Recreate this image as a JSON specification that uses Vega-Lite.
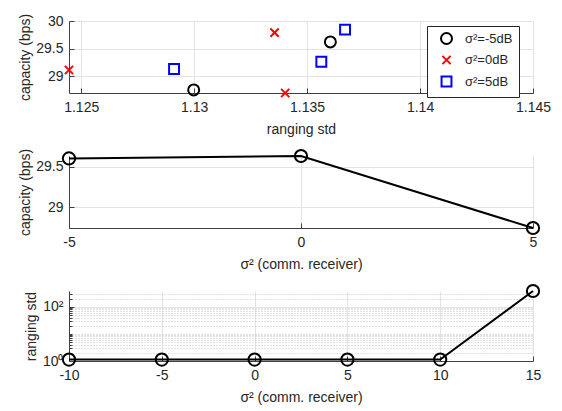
{
  "$schema": "https://vega.github.io/schema/vega-lite/v6.json",
  "padding": {"left": 18, "top": 13, "right": 5, "bottom": 2},
  "background": "white",
  "spacing": 9,
  "config": {
    "view": {"stroke": null},
    "font": "Liberation Sans",
    "axis": {
      "labelFont": "Liberation Sans", "labelFontSize": 14, "labelColor": "#262626",
      "titleFont": "Liberation Sans", "titleFontSize": 14, "titleFontWeight": "normal", "titleColor": "#262626",
      "domainColor": "#404040", "tickColor": "#404040", "gridColor": "#e3e3e3",
      "tickSize": -5, "labelPadding": 12, "labelFlush": false, "labelOverlap": false,
      "labelExpr": "replace(datum.label, '\u2212', '-')"
    },
    "axisY": {"titlePadding": 3, "labelPadding": 11},
    "axisX": {"titlePadding": 8}
  },
  "vconcat": [
    {
      "width": 464, "height": 72,
      "data": {"values": [
        {"x": 1.12998, "y": 28.756, "s": "σ²=-5dB"},
        {"x": 1.13603, "y": 29.623, "s": "σ²=-5dB"},
        {"x": 1.12446, "y": 29.115, "s": "σ²=0dB"},
        {"x": 1.13356, "y": 29.79, "s": "σ²=0dB"},
        {"x": 1.13403, "y": 28.70, "s": "σ²=0dB"},
        {"x": 1.12911, "y": 29.133, "s": "σ²=5dB"},
        {"x": 1.13563, "y": 29.264, "s": "σ²=5dB"},
        {"x": 1.13668, "y": 29.844, "s": "σ²=5dB"}
      ]},
      "mark": {"type": "point", "filled": false, "strokeWidth": 2, "size": 121, "opacity": 1},
      "encoding": {
        "x": {"field": "x", "type": "quantitative",
          "scale": {"domain": [1.12446, 1.145], "nice": false, "zero": false},
          "axis": {"values": [1.125, 1.13, 1.135, 1.14, 1.145], "format": "~g", "title": "ranging std"}},
        "y": {"field": "y", "type": "quantitative",
          "scale": {"domain": [28.7, 30], "nice": false, "zero": false},
          "axis": {"values": [29, 29.5, 30], "format": "~g", "title": "capacity (bps)"}},
        "shape": {"field": "s", "type": "nominal",
          "scale": {"domain": ["σ²=-5dB", "σ²=0dB", "σ²=5dB"],
                    "range": ["circle", "M-0.75,-0.75L0.75,0.75M0.75,-0.75L-0.75,0.75", "M-0.9,-0.9H0.9V0.9H-0.9Z"]},
          "legend": {"title": null, "orient": "none", "legendX": 358, "legendY": 5,
            "strokeColor": "#262626", "fillColor": "white", "padding": 6,
            "symbolOffset": 7, "labelOffset": 12, "rowPadding": 3.5,
            "labelFont": "Liberation Sans", "labelFontSize": 13, "labelColor": "#262626",
            "symbolSize": 121, "symbolStrokeWidth": 2}},
        "color": {"field": "s", "type": "nominal",
          "scale": {"domain": ["σ²=-5dB", "σ²=0dB", "σ²=5dB"], "range": ["#000000", "#ff0000", "#0000ff"]}}
      }
    },
    {
      "width": 464, "height": 72,
      "data": {"values": [
        {"sigma": -5, "cap": 29.60},
        {"sigma": 0, "cap": 29.63},
        {"sigma": 5, "cap": 28.745}
      ]},
      "encoding": {
        "x": {"field": "sigma", "type": "quantitative",
          "scale": {"domain": [-5, 5], "nice": false, "zero": false},
          "axis": {"values": [-5, 0, 5], "title": "σ² (comm. receiver)"}},
        "y": {"field": "cap", "type": "quantitative",
          "scale": {"domain": [28.745, 29.63], "nice": false, "zero": false},
          "axis": {"values": [29, 29.5], "format": "~g", "title": "capacity (bps)"}}
      },
      "layer": [
        {"mark": {"type": "line", "color": "black", "strokeWidth": 2}},
        {"mark": {"type": "point", "shape": "circle", "filled": false, "color": "black", "strokeWidth": 2, "size": 150, "opacity": 1}}
      ]
    },
    {
      "width": 464, "height": 70,
      "data": {"values": [
        {"sigma": -10, "r": 1.13},
        {"sigma": -5, "r": 1.13},
        {"sigma": 0, "r": 1.13},
        {"sigma": 5, "r": 1.13},
        {"sigma": 10, "r": 1.13},
        {"sigma": 15, "r": 380}
      ]},
      "encoding": {
        "x": {"field": "sigma", "type": "quantitative",
          "scale": {"domain": [-10, 15], "nice": false, "zero": false},
          "axis": {"values": [-10, -5, 0, 5, 10, 15], "title": "σ² (comm. receiver)"}},
        "y": {"field": "r", "type": "quantitative",
          "scale": {"type": "log", "domain": [1, 380], "nice": false},
          "axis": {"values": [1, 2, 3, 4, 5, 6, 7, 8, 9, 10, 20, 30, 40, 50, 60, 70, 80, 90, 100, 200, 300],
            "labelExpr": "datum.value == 1 ? '10⁰' : (datum.value == 100 ? '10²' : '')",
            "title": "ranging std", "titlePadding": 4,
            "gridDash": {"condition": {"test": "datum.value == 1 || datum.value == 100", "value": []}, "value": [1, 2]},
            "gridColor": {"condition": {"test": "datum.value == 1 || datum.value == 100", "value": "#e3e3e3"}, "value": "#c4c4c4"},
            "tickSize": {"condition": {"test": "datum.value == 1 || datum.value == 100", "value": -5}, "value": -3}}}
      },
      "layer": [
        {"mark": {"type": "line", "color": "black", "strokeWidth": 2}},
        {"mark": {"type": "point", "shape": "circle", "filled": false, "color": "black", "strokeWidth": 2, "size": 150, "opacity": 1}}
      ]
    }
  ]
}
